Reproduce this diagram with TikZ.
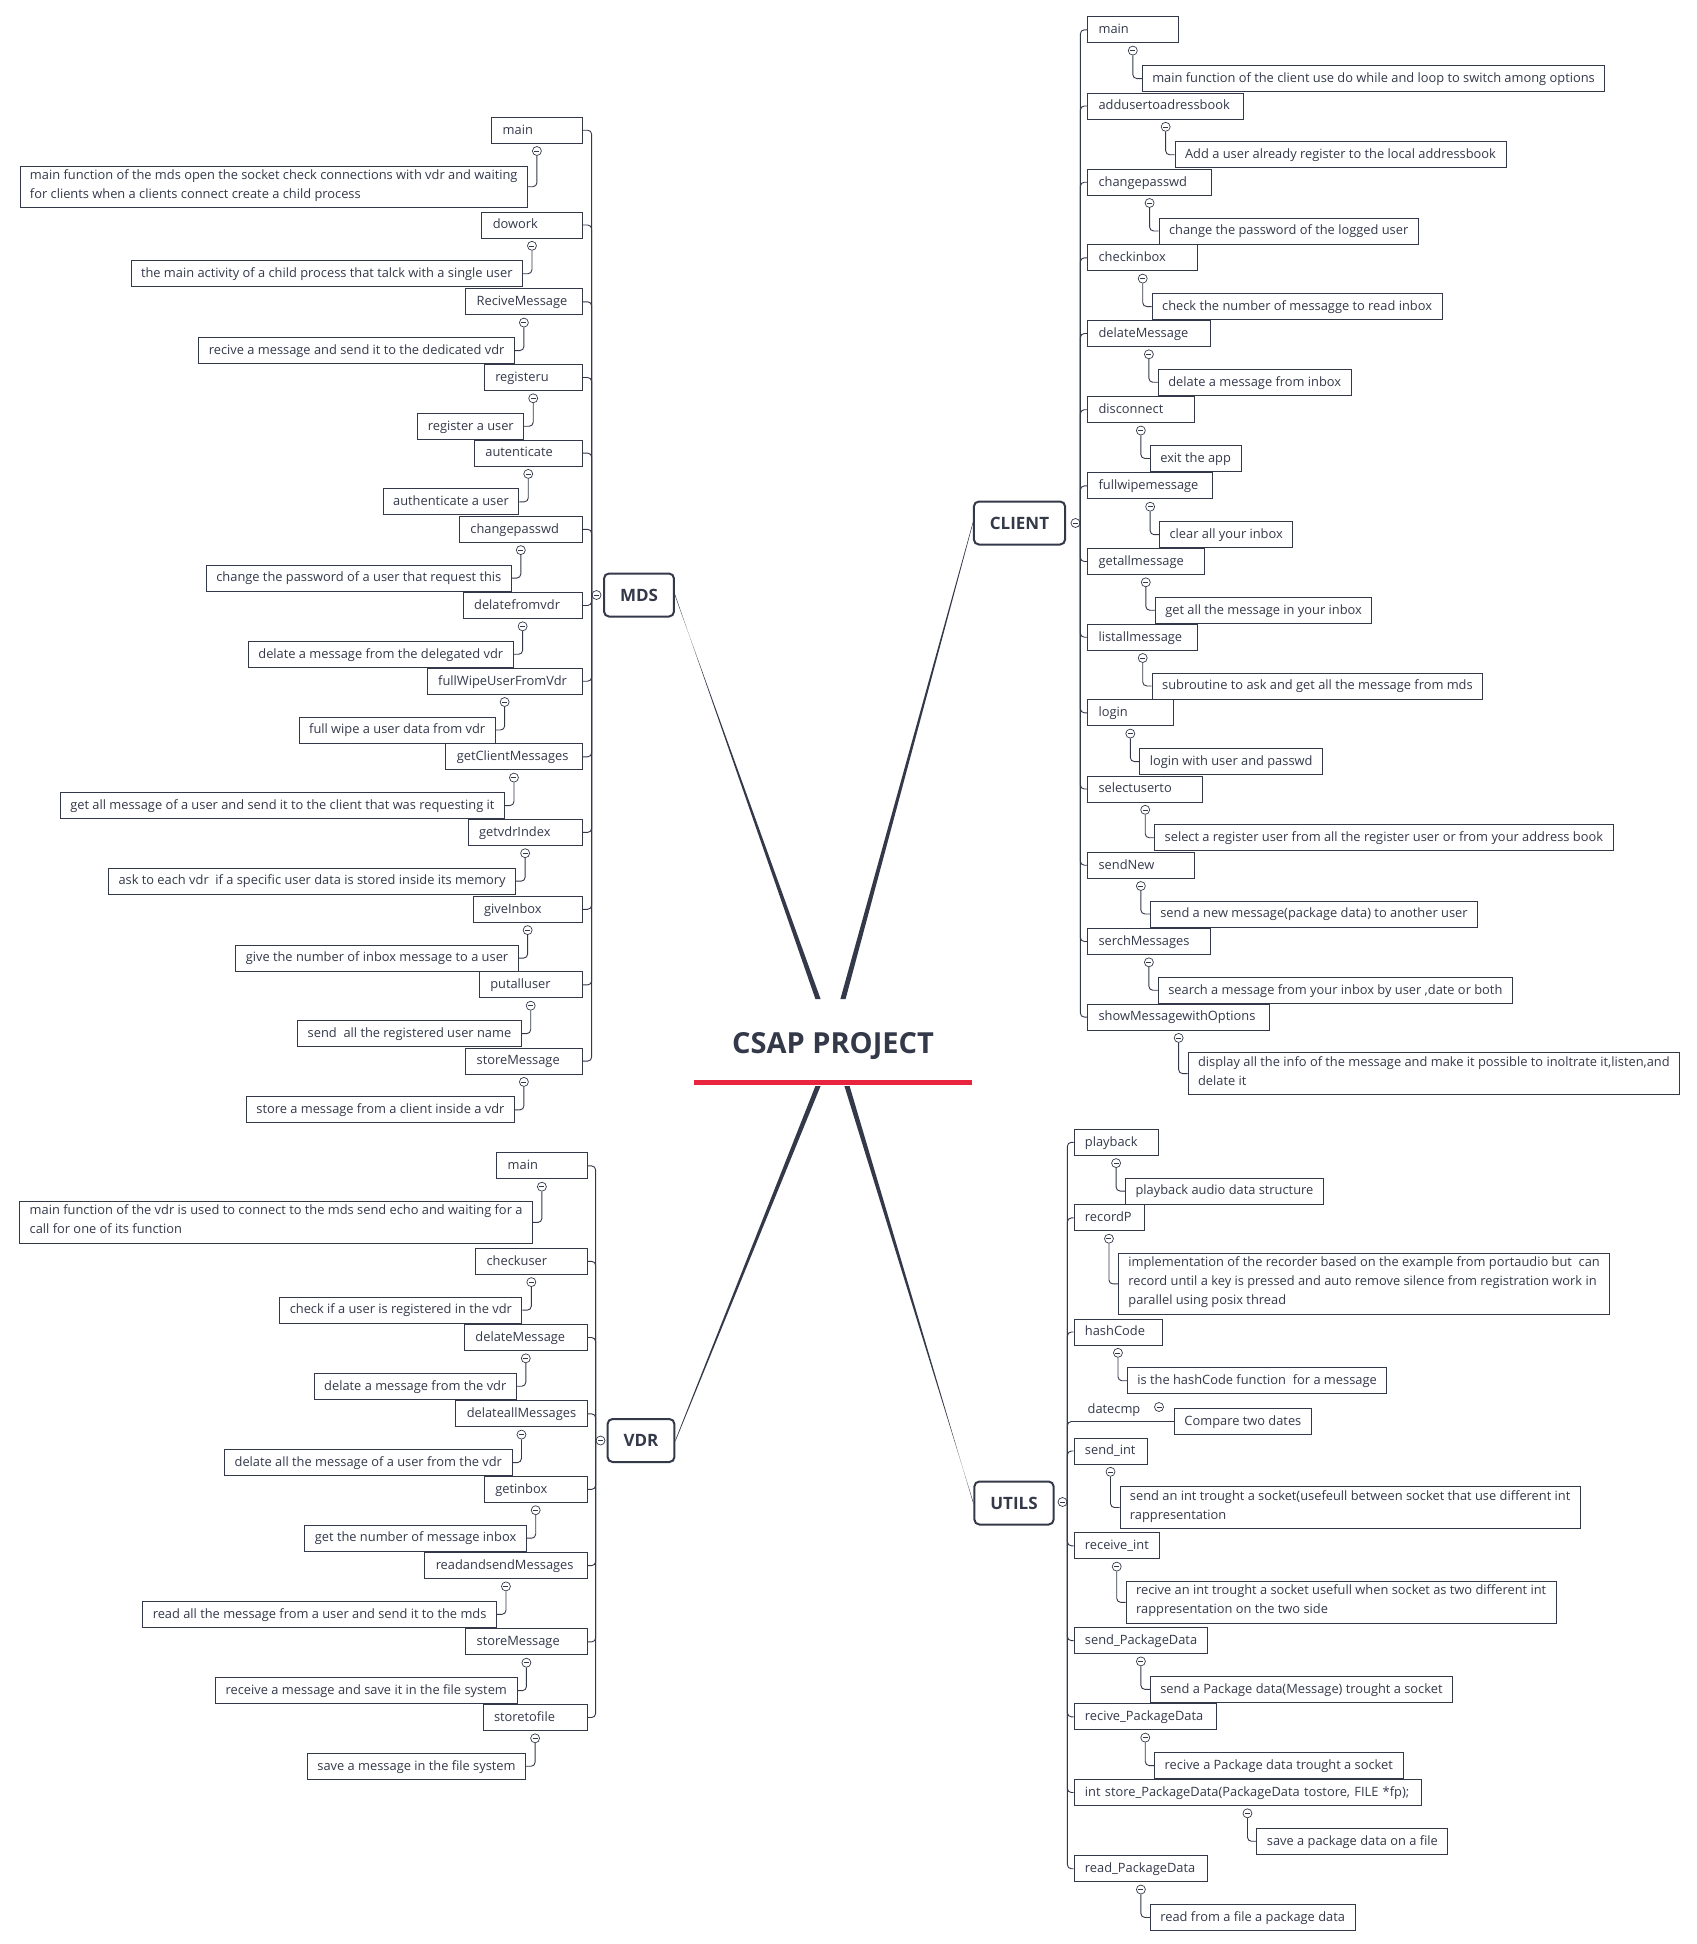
\documentclass[tikz,border=0pt]{standalone}
\usepackage{fontspec}
\setmainfont{Open Sans}
\usepackage{tikz}
\usepackage{xcolor}
\usetikzlibrary{positioning,calc}
\definecolor{ink}{RGB}{52,57,74}
\definecolor{bar}{RGB}{232,36,63}

\begin{document}
\begin{tikzpicture}[x=1pt,y=-1pt,
  font=\fontsize{12.85}{19}\selectfont,
  subtopic/.style={draw=ink,line width=.9pt,text=ink,text width=#1,align=left,inner xsep=11pt,inner ysep=3.5pt,execute at begin node=\strut,execute at end node=\strut},
  notebox/.style={draw=ink,line width=.9pt,text=ink,align=left,inner xsep=10pt,inner ysep=3.5pt,execute at begin node=\strut,execute at end node=\strut},
  mainbox/.style={draw=ink,line width=2pt,rounded corners=5pt,text=ink,font=\fontsize{17}{20}\selectfont\bfseries,minimum height=43pt,inner xsep=16pt},
  foldmark/.style={circle,draw=ink,fill=white,line width=.7pt,minimum size=9pt,inner sep=0pt,path picture={\draw[ink,line width=.6pt] ([xshift=2pt]path picture bounding box.west) -- ([xshift=-2pt]path picture bounding box.east);}},
  hook/.style={draw=ink,line width=.9pt,rounded corners=4pt}]
\useasboundingbox (0,0) rectangle (1697,1944);
\fill[white] (0,0) rectangle (1697,1944);

\node[text=ink,font=\fontsize{29}{34}\selectfont\bfseries] (root) at (833,1046) {CSAP PROJECT};
\draw[bar,line width=5pt] (694,1082) -- (972,1082);
\coordinate (mdsin) at (818,999);
\coordinate (clientin) at (843,999);
\coordinate (vdrin) at (818,1086);
\coordinate (utilsin) at (847,1086);

\node[mainbox] (mds) at (639,595) {MDS};
\node[mainbox] (client) at (1019.5,523) {CLIENT};
\node[mainbox] (vdr) at (641,1440.5) {VDR};
\node[mainbox] (utils) at (1014,1503) {UTILS};
\fill[ink] ($(mds.east)+(0,-.8)$) -- ($(mdsin)+(-2.6,0)$) -- ($(mdsin)+(2.6,0)$) -- ($(mds.east)+(0,.8)$) -- cycle;
\fill[ink] ($(client.west)+(0,-.8)$) -- ($(clientin)+(-2.6,0)$) -- ($(clientin)+(2.6,0)$) -- ($(client.west)+(0,.8)$) -- cycle;
\fill[ink] ($(vdr.east)+(0,-.8)$) -- ($(vdrin)+(-2.6,0)$) -- ($(vdrin)+(2.6,0)$) -- ($(vdr.east)+(0,.8)$) -- cycle;
\fill[ink] ($(utils.west)+(0,-.8)$) -- ($(utilsin)+(-2.6,0)$) -- ($(utilsin)+(2.6,0)$) -- ($(utils.west)+(0,.8)$) -- cycle;
\node[foldmark] (mdsfold) at (596.5,595) {};
\node[foldmark] (clientfold) at (1075.5,523) {};
\node[foldmark] (vdrfold) at (600.5,1440.5) {};
\node[foldmark] (utilsfold) at (1062.5,1502) {};

\node[subtopic=68.5pt,anchor=east] (mds1) at (582.6,130.2) {main};
\node[foldmark,below=2.5pt of mds1] (mds1f) {};
\node[notebox,below left=14.5pt and 9pt of mds1f.center] (mds1n) {main function of the mds open the socket check connections with vdr and waiting\\for clients when a clients connect create a child process};
\node[subtopic=78.4pt,anchor=east] (mds2) at (582.6,225) {dowork};
\node[foldmark,below=2.5pt of mds2] (mds2f) {};
\node[notebox,below left=14.5pt and 9pt of mds2f.center] (mds2n) {the main activity of a child process that talck with a single user};
\node[subtopic=94.5pt,anchor=east] (mds3) at (582.6,301.8) {ReciveMessage};
\node[foldmark,below=2.5pt of mds3] (mds3f) {};
\node[notebox,below left=14.5pt and 9pt of mds3f.center] (mds3n) {recive a message and send it to the dedicated vdr};
\node[subtopic=75.9pt,anchor=east] (mds4) at (582.6,377.5) {registeru};
\node[foldmark,below=2.5pt of mds4] (mds4f) {};
\node[notebox,below left=14.5pt and 9pt of mds4f.center] (mds4n) {register a user};
\node[subtopic=85.8pt,anchor=east] (mds5) at (582.6,453.1) {autenticate};
\node[foldmark,below=2.5pt of mds5] (mds5f) {};
\node[notebox,below left=14.5pt and 9pt of mds5f.center] (mds5n) {authenticate a user};
\node[subtopic=100.7pt,anchor=east] (mds6) at (582.6,529.3) {changepasswd};
\node[foldmark,below=2.5pt of mds6] (mds6f) {};
\node[notebox,below left=14.5pt and 9pt of mds6f.center] (mds6n) {change the password of a user that request this};
\node[subtopic=97pt,anchor=east] (mds7) at (582.6,605.5) {delatefromvdr};
\node[foldmark,below=2.5pt of mds7] (mds7f) {};
\node[notebox,below left=14.5pt and 9pt of mds7f.center] (mds7n) {delate a message from the delegated vdr};
\node[subtopic=133pt,anchor=east] (mds8) at (582.6,681.2) {fullWipeUserFromVdr};
\node[foldmark,below=2.5pt of mds8] (mds8f) {};
\node[notebox,below left=14.5pt and 9pt of mds8f.center] (mds8n) {full wipe a user data from vdr};
\node[subtopic=114.4pt,anchor=east] (mds9) at (582.6,756.8) {getClientMessages};
\node[foldmark,below=2.5pt of mds9] (mds9f) {};
\node[notebox,below left=14.5pt and 9pt of mds9f.center] (mds9n) {get all message of a user and send it to the client that was requesting it};
\node[subtopic=92pt,anchor=east] (mds10) at (582.6,832.4) {getvdrIndex};
\node[foldmark,below=2.5pt of mds10] (mds10f) {};
\node[notebox,below left=14.5pt and 9pt of mds10f.center] (mds10n) {ask to each vdr\ \ if a specific user data is stored inside its memory};
\node[subtopic=87pt,anchor=east] (mds11) at (582.6,909.3) {giveInbox};
\node[foldmark,below=2.5pt of mds11] (mds11f) {};
\node[notebox,below left=14.5pt and 9pt of mds11f.center] (mds11n) {give the number of inbox message to a user};
\node[subtopic=80.9pt,anchor=east] (mds12) at (582.6,984.9) {putalluser};
\node[foldmark,below=2.5pt of mds12] (mds12f) {};
\node[notebox,below left=14.5pt and 9pt of mds12f.center] (mds12n) {send\ \ all the registered user name};
\node[subtopic=94.5pt,anchor=east] (mds13) at (582.6,1061.1) {storeMessage};
\node[foldmark,below=2.5pt of mds13] (mds13f) {};
\node[notebox,below left=14.5pt and 9pt of mds13f.center] (mds13n) {store a message from a client inside a vdr};
\draw[hook] (mdsfold.west) |- (mds1.east);
\draw[hook] (mdsfold.west) |- (mds2.east);
\draw[hook] (mdsfold.west) |- (mds3.east);
\draw[hook] (mdsfold.west) |- (mds4.east);
\draw[hook] (mdsfold.west) |- (mds5.east);
\draw[hook] (mdsfold.west) |- (mds6.east);
\draw[hook] (mdsfold.west) |- (mds7.east);
\draw[hook] (mdsfold.west) |- (mds8.east);
\draw[hook] (mdsfold.west) |- (mds9.east);
\draw[hook] (mdsfold.west) |- (mds10.east);
\draw[hook] (mdsfold.west) |- (mds11.east);
\draw[hook] (mdsfold.west) |- (mds12.east);
\draw[hook] (mdsfold.west) |- (mds13.east);
\draw[hook] (mds1f) |- (mds1n.east);
\draw[hook] (mds2f) |- (mds2n.east);
\draw[hook] (mds3f) |- (mds3n.east);
\draw[hook] (mds4f) |- (mds4n.east);
\draw[hook] (mds5f) |- (mds5n.east);
\draw[hook] (mds6f) |- (mds6n.east);
\draw[hook] (mds7f) |- (mds7n.east);
\draw[hook] (mds8f) |- (mds8n.east);
\draw[hook] (mds9f) |- (mds9n.east);
\draw[hook] (mds10f) |- (mds10n.east);
\draw[hook] (mds11f) |- (mds11n.east);
\draw[hook] (mds12f) |- (mds12n.east);
\draw[hook] (mds13f) |- (mds13n.east);

\node[subtopic=68.5pt,anchor=west] (cl1) at (1087.1,29.8) {main};
\node[foldmark,below=2.5pt of cl1] (cl1f) {};
\node[notebox,below right=14.5pt and 9pt of cl1f.center] (cl1n) {main function of the client use do while and loop to switch among options};
\node[subtopic=134.2pt,anchor=west] (cl2) at (1087.1,106) {addusertoadressbook};
\node[foldmark,below=2.5pt of cl2] (cl2f) {};
\node[notebox,below right=14.5pt and 9pt of cl2f.center] (cl2n) {Add a user already register to the local addressbook};
\node[subtopic=102pt,anchor=west] (cl3) at (1087.1,182.2) {changepasswd};
\node[foldmark,below=2.5pt of cl3] (cl3f) {};
\node[notebox,below right=14.5pt and 9pt of cl3f.center] (cl3n) {change the password of the logged user};
\node[subtopic=88.3pt,anchor=west] (cl4) at (1087.1,257.8) {checkinbox};
\node[foldmark,below=2.5pt of cl4] (cl4f) {};
\node[notebox,below right=14.5pt and 9pt of cl4f.center] (cl4n) {check the number of messagge to read inbox};
\node[subtopic=100.7pt,anchor=west] (cl5) at (1087.1,333.5) {delateMessage};
\node[foldmark,below=2.5pt of cl5] (cl5f) {};
\node[notebox,below right=14.5pt and 9pt of cl5f.center] (cl5n) {delate a message from inbox};
\node[subtopic=84.6pt,anchor=west] (cl6) at (1087.1,409.7) {disconnect};
\node[foldmark,below=2.5pt of cl6] (cl6f) {};
\node[notebox,below right=14.5pt and 9pt of cl6f.center] (cl6n) {exit the app};
\node[subtopic=103.2pt,anchor=west] (cl7) at (1087.1,485.9) {fullwipemessage};
\node[foldmark,below=2.5pt of cl7] (cl7f) {};
\node[notebox,below right=14.5pt and 9pt of cl7f.center] (cl7n) {clear all your inbox};
\node[subtopic=94.5pt,anchor=west] (cl8) at (1087.1,561.5) {getallmessage};
\node[foldmark,below=2.5pt of cl8] (cl8f) {};
\node[notebox,below right=14.5pt and 9pt of cl8f.center] (cl8n) {get all the message in your inbox};
\node[subtopic=88.3pt,anchor=west] (cl9) at (1087.1,637.2) {listallmessage};
\node[foldmark,below=2.5pt of cl9] (cl9f) {};
\node[notebox,below right=14.5pt and 9pt of cl9f.center] (cl9n) {subroutine to ask and get all the message from mds};
\node[subtopic=63.5pt,anchor=west] (cl10) at (1087.1,712.8) {login};
\node[foldmark,below=2.5pt of cl10] (cl10f) {};
\node[notebox,below right=14.5pt and 9pt of cl10f.center] (cl10n) {login with user and passwd};
\node[subtopic=93.3pt,anchor=west] (cl11) at (1087.1,789) {selectuserto};
\node[foldmark,below=2.5pt of cl11] (cl11f) {};
\node[notebox,below right=14.5pt and 9pt of cl11f.center] (cl11n) {select a register user from all the register user or from your address book};
\node[subtopic=84.6pt,anchor=west] (cl12) at (1087.1,865.2) {sendNew};
\node[foldmark,below=2.5pt of cl12] (cl12f) {};
\node[notebox,below right=14.5pt and 9pt of cl12f.center] (cl12n) {send a new message(package data) to another user};
\node[subtopic=100.7pt,anchor=west] (cl13) at (1087.1,941.5) {serchMessages};
\node[foldmark,below=2.5pt of cl13] (cl13f) {};
\node[notebox,below right=14.5pt and 9pt of cl13f.center] (cl13n) {search a message from your inbox by user ,date or both};
\node[subtopic=160.2pt,anchor=west] (cl14) at (1087.1,1017.1) {showMessagewithOptions};
\node[foldmark,below=2.5pt of cl14] (cl14f) {};
\node[notebox,below right=14.5pt and 9pt of cl14f.center] (cl14n) {display all the info of the message and make it possible to inoltrate it,listen,and\\delate it};
\draw[hook] (clientfold.east) |- (cl1.west);
\draw[hook] (clientfold.east) |- (cl2.west);
\draw[hook] (clientfold.east) |- (cl3.west);
\draw[hook] (clientfold.east) |- (cl4.west);
\draw[hook] (clientfold.east) |- (cl5.west);
\draw[hook] (clientfold.east) |- (cl6.west);
\draw[hook] (clientfold.east) |- (cl7.west);
\draw[hook] (clientfold.east) |- (cl8.west);
\draw[hook] (clientfold.east) |- (cl9.west);
\draw[hook] (clientfold.east) |- (cl10.west);
\draw[hook] (clientfold.east) |- (cl11.west);
\draw[hook] (clientfold.east) |- (cl12.west);
\draw[hook] (clientfold.east) |- (cl13.west);
\draw[hook] (clientfold.east) |- (cl14.west);
\draw[hook] (cl1f) |- (cl1n.west);
\draw[hook] (cl2f) |- (cl2n.west);
\draw[hook] (cl3f) |- (cl3n.west);
\draw[hook] (cl4f) |- (cl4n.west);
\draw[hook] (cl5f) |- (cl5n.west);
\draw[hook] (cl6f) |- (cl6n.west);
\draw[hook] (cl7f) |- (cl7n.west);
\draw[hook] (cl8f) |- (cl8n.west);
\draw[hook] (cl9f) |- (cl9n.west);
\draw[hook] (cl10f) |- (cl10n.west);
\draw[hook] (cl11f) |- (cl11n.west);
\draw[hook] (cl12f) |- (cl12n.west);
\draw[hook] (cl13f) |- (cl13n.west);
\draw[hook] (cl14f) |- (cl14n.west);

\node[subtopic=68.5pt,anchor=east] (vdr1) at (587.6,1165.9) {main};
\node[foldmark,below=2.5pt of vdr1] (vdr1f) {};
\node[notebox,below left=14.5pt and 9pt of vdr1f.center] (vdr1n) {main function of the vdr is used to connect to the mds send echo and waiting for a\\call for one of its function};
\node[subtopic=89.6pt,anchor=east] (vdr2) at (587.6,1261.3) {checkuser};
\node[foldmark,below=2.5pt of vdr2] (vdr2f) {};
\node[notebox,below left=14.5pt and 9pt of vdr2f.center] (vdr2n) {check if a user is registered in the vdr};
\node[subtopic=100.7pt,anchor=east] (vdr3) at (587.6,1337.5) {delateMessage};
\node[foldmark,below=2.5pt of vdr3] (vdr3f) {};
\node[notebox,below left=14.5pt and 9pt of vdr3f.center] (vdr3n) {delate a message from the vdr};
\node[subtopic=109.4pt,anchor=east] (vdr4) at (587.6,1413.8) {delateallMessages};
\node[foldmark,below=2.5pt of vdr4] (vdr4f) {};
\node[notebox,below left=14.5pt and 9pt of vdr4f.center] (vdr4n) {delate all the message of a user from the vdr};
\node[subtopic=80.9pt,anchor=east] (vdr5) at (587.6,1489.4) {getinbox};
\node[foldmark,below=2.5pt of vdr5] (vdr5f) {};
\node[notebox,below left=14.5pt and 9pt of vdr5f.center] (vdr5n) {get the number of message inbox};
\node[subtopic=140.4pt,anchor=east] (vdr6) at (587.6,1565.6) {readandsendMessages};
\node[foldmark,below=2.5pt of vdr6] (vdr6f) {};
\node[notebox,below left=14.5pt and 9pt of vdr6f.center] (vdr6n) {read all the message from a user and send it to the mds};
\node[subtopic=99.5pt,anchor=east] (vdr7) at (587.6,1641.9) {storeMessage};
\node[foldmark,below=2.5pt of vdr7] (vdr7f) {};
\node[notebox,below left=14.5pt and 9pt of vdr7f.center] (vdr7n) {receive a message and save it in the file system};
\node[subtopic=82.1pt,anchor=east] (vdr8) at (587.6,1717.5) {storetofile};
\node[foldmark,below=2.5pt of vdr8] (vdr8f) {};
\node[notebox,below left=14.5pt and 9pt of vdr8f.center] (vdr8n) {save a message in the file system};
\draw[hook] (vdrfold.west) |- (vdr1.east);
\draw[hook] (vdrfold.west) |- (vdr2.east);
\draw[hook] (vdrfold.west) |- (vdr3.east);
\draw[hook] (vdrfold.west) |- (vdr4.east);
\draw[hook] (vdrfold.west) |- (vdr5.east);
\draw[hook] (vdrfold.west) |- (vdr6.east);
\draw[hook] (vdrfold.west) |- (vdr7.east);
\draw[hook] (vdrfold.west) |- (vdr8.east);
\draw[hook] (vdr1f) |- (vdr1n.east);
\draw[hook] (vdr2f) |- (vdr2n.east);
\draw[hook] (vdr3f) |- (vdr3n.east);
\draw[hook] (vdr4f) |- (vdr4n.east);
\draw[hook] (vdr5f) |- (vdr5n.east);
\draw[hook] (vdr6f) |- (vdr6n.east);
\draw[hook] (vdr7f) |- (vdr7n.east);
\draw[hook] (vdr8f) |- (vdr8n.east);

\node[subtopic=62.3pt,anchor=west] (ut1) at (1073.5,1142.3) {playback};
\node[foldmark,below=2.5pt of ut1] (ut1f) {};
\node[notebox,below right=14.5pt and 9pt of ut1f.center] (ut1n) {playback audio data structure};
\node[subtopic=48pt,anchor=west] (ut2) at (1073.5,1217.9) {recordP};
\node[foldmark,below=2.5pt of ut2] (ut2f) {};
\node[notebox,below right=14.5pt and 9pt of ut2f.center] (ut2n) {implementation of the recorder based on the example from portaudio but\ \ can\\record until a key is pressed and auto remove silence from registration work in\\parallel using posix thread};
\node[subtopic=66pt,anchor=west] (ut3) at (1073.5,1332) {hashCode};
\node[foldmark,below=2.5pt of ut3] (ut3f) {};
\node[notebox,below right=14.5pt and 9pt of ut3f.center] (ut3n) {is the hashCode function\ \ for a message};
\node[text=ink] (ut4) at (1114,1410) {datecmp};
\node[foldmark] (ut4f) at (1159,1407) {};
\node[notebox,anchor=west] (ut4n) at (1174,1421.5) {Compare two dates};
\node[subtopic=51.1pt,anchor=west] (ut5) at (1073.5,1451) {send\_int};
\node[foldmark,below=2.5pt of ut5] (ut5f) {};
\node[notebox,below right=14.5pt and 9pt of ut5f.center] (ut5n) {send an int trought a socket(usefeull between socket that use different int\\rappresentation};
\node[subtopic=63.5pt,anchor=west] (ut6) at (1073.5,1545.8) {receive\_int};
\node[foldmark,below=2.5pt of ut6] (ut6f) {};
\node[notebox,below right=14.5pt and 9pt of ut6f.center] (ut6n) {recive an int trought a socket usefull when socket as two different int\\rappresentation on the two side};
\node[subtopic=111.9pt,anchor=west] (ut7) at (1073.5,1640.6) {send\_PackageData};
\node[foldmark,below=2.5pt of ut7] (ut7f) {};
\node[notebox,below right=14.5pt and 9pt of ut7f.center] (ut7n) {send a Package data(Message) trought a socket};
\node[subtopic=120.6pt,anchor=west] (ut8) at (1073.5,1716.8) {recive\_PackageData};
\node[foldmark,below=2.5pt of ut8] (ut8f) {};
\node[notebox,below right=14.5pt and 9pt of ut8f.center] (ut8n) {recive a Package data trought a socket};
\node[subtopic=325pt,anchor=west] (ut9) at (1073.5,1792.5) {\mbox{int store\_PackageData(PackageData tostore, FILE *fp);}};
\node[foldmark,below=2.5pt of ut9] (ut9f) {};
\node[notebox,below right=14.5pt and 9pt of ut9f.center] (ut9n) {save a package data on a file};
\node[subtopic=111.9pt,anchor=west] (ut10) at (1073.5,1868.7) {read\_PackageData};
\node[foldmark,below=2.5pt of ut10] (ut10f) {};
\node[notebox,below right=14.5pt and 9pt of ut10f.center] (ut10n) {read from a file a package data};
\draw[hook] (utilsfold.east) |- (ut1.west);
\draw[hook] (utilsfold.east) |- (ut2.west);
\draw[hook] (utilsfold.east) |- (ut3.west);
\draw[hook] (utilsfold.east) |- (ut4n.west);
\draw[hook] (utilsfold.east) |- (ut5.west);
\draw[hook] (utilsfold.east) |- (ut6.west);
\draw[hook] (utilsfold.east) |- (ut7.west);
\draw[hook] (utilsfold.east) |- (ut8.west);
\draw[hook] (utilsfold.east) |- (ut9.west);
\draw[hook] (utilsfold.east) |- (ut10.west);
\draw[hook] (ut1f) |- (ut1n.west);
\draw[hook] (ut2f) |- (ut2n.west);
\draw[hook] (ut3f) |- (ut3n.west);
\draw[hook] (ut5f) |- (ut5n.west);
\draw[hook] (ut6f) |- (ut6n.west);
\draw[hook] (ut7f) |- (ut7n.west);
\draw[hook] (ut8f) |- (ut8n.west);
\draw[hook] (ut9f) |- (ut9n.west);
\draw[hook] (ut10f) |- (ut10n.west);
\end{tikzpicture}
\end{document}
